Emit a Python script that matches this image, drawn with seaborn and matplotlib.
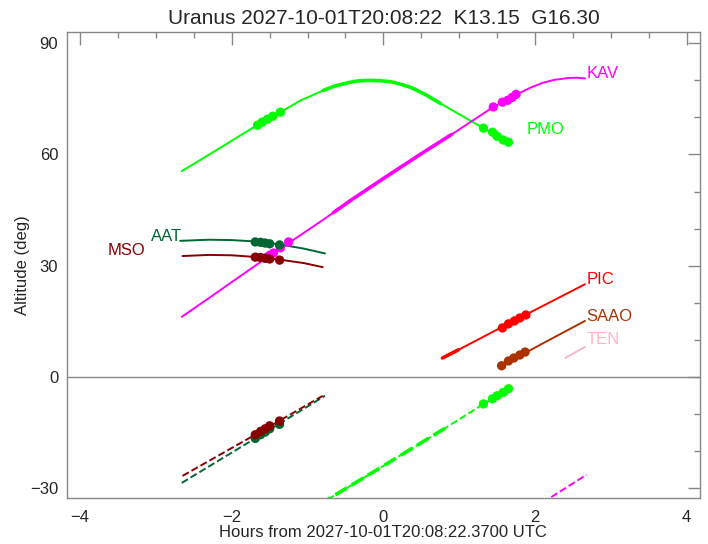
import numpy as np
import pandas as pd
import matplotlib
matplotlib.use("Agg")
import matplotlib.pyplot as plt
import seaborn as sns
from matplotlib.ticker import MultipleLocator

# Altitude curves (hours from reference time, altitude in deg)
pmo_x = [-2.66, -2.2, -1.69, -1.36, -1.09, -0.79, -0.65, -0.5, -0.35, -0.21, -0.05,
         0.1, 0.2, 0.36, 0.55, 0.75, 1.02, 1.32, 1.65]
pmo_y = [55.5, 61.2, 67.6, 71.4, 74.6, 77.3, 78.4, 79.2, 79.8, 80.0, 79.9,
         79.6, 79.1, 78.1, 76.2, 73.8, 70.6, 67.1, 63.3]
kav_x = [-2.66, -2.32, -1.69, -1.25, -0.80, -0.66, -0.44, 0.0, 0.5, 0.9, 1.02, 1.45,
         1.77, 1.95, 2.1, 2.25, 2.43, 2.55, 2.66]
kav_y = [16.2, 21.0, 30.0, 36.1, 42.3, 44.3, 47.5, 53.5, 60.2, 65.4, 67.0, 72.8,
         76.3, 78.1, 79.3, 80.1, 80.6, 80.7, 80.5]
aat_x = [-2.68, -2.3, -2.0, -1.66, -1.36, -1.05, -0.77]
aat_y = [36.7, 37.0, 36.9, 36.5, 35.7, 34.6, 33.3]
mso_x = [-2.65, -2.3, -2.0, -1.66, -1.36, -1.05, -0.80]
mso_y = [32.6, 32.9, 32.8, 32.3, 31.6, 30.7, 29.6]
pic_x = [0.78, 0.99, 1.7, 2.66]
pic_y = [5.1, 7.3, 14.9, 25.0]
saao_x = [1.56, 2.1, 2.66]
saao_y = [3.0, 9.0, 15.1]
ten_x = [2.40, 2.66]
ten_y = [5.1, 8.1]

# thick windows on the curves
pmo_thick = (-0.79, 0.75)
kav_thick = (-0.66, 0.9)
pic_thick = (0.78, 0.99)

# dashed curves (below horizon)
aat_dx = [-2.66, -1.7, -0.77]
aat_dy = [-28.6, -16.7, -5.1]
mso_dx = [-2.65, -1.7, -0.80]
mso_dy = [-26.7, -15.7, -5.1]
pmo_dx = [-0.85, 0.0, 0.84, 1.64]
pmo_dy = [-34.5, -24.0, -13.5, -3.2]
pmo_dthick = (-0.85, 0.84)
kav_dx = [2.10, 2.68]
kav_dy = [-33.9, -26.4]

# observation points
pmo_p1x = [-1.66, -1.60, -1.53, -1.46, -1.36]
pmo_p1y = [67.9, 68.7, 69.5, 70.3, 71.4]
pmo_p2x = [1.32, 1.44, 1.50, 1.58, 1.65]
pmo_p2y = [67.1, 66.0, 64.9, 63.9, 63.3]
pmo_p3y = [-7.3, -5.9, -5.1, -4.2, -3.2]
kav_p1x = [-1.56, -1.50, -1.45, -1.36, -1.25]
kav_p1y = [32.0, 32.8, 33.4, 34.8, 36.4]
kav_p2x = [1.45, 1.57, 1.64, 1.70, 1.75]
kav_p2y = [72.8, 74.1, 74.6, 75.4, 76.2]
south_px = [-1.69, -1.62, -1.56, -1.50, -1.37]
aat_py = [36.4, 36.3, 36.1, 35.9, 35.6]
aat_pdy = [-16.6, -15.6, -14.9, -14.0, -12.8]
mso_py = [32.3, 32.2, 32.0, 31.8, 31.5]
mso_pdy = [-15.6, -14.7, -14.0, -13.2, -11.9]
pic_px = [1.57, 1.65, 1.73, 1.80, 1.88]
pic_py = [13.2, 14.3, 15.1, 15.9, 16.7]
saao_px = [1.56, 1.65, 1.72, 1.80, 1.87]
saao_py = [3.0, 4.3, 5.1, 5.9, 6.7]

# label positions
labels = ["KAV", "PMO", "AAT", "MSO", "PIC", "SAAO", "TEN"]
label_x = [2.68, 1.89, -2.66, -3.14, 2.68, 2.68, 2.68]
label_y = [81.9, 66.6, 38.0, 34.2, 26.4, 16.4, 10.0]
label_ha = ["left", "left", "right", "right", "left", "left", "left"]

colors = {"PMO": "#00ff00", "KAV": "#ff00ff", "AAT": "#006633", "MSO": "#880000",
          "PIC": "#ff0000", "SAAO": "#aa3300", "TEN": "#ffb6c1"}

sns.set_style("white")
plt.rcParams["font.family"] = ["Liberation Sans", "DejaVu Sans"]

fig = plt.figure(figsize=(7.08, 5.44), dpi=100)
ax = fig.add_axes([0.094, 0.085, 0.895, 0.856])

gray = "#888888"
ax.axhline(0, color=gray, lw=1, zorder=1)


def curve(x, y, name, lw=1.4, ls="-", thick=None):
    sns.lineplot(x=x, y=y, color=colors[name], lw=lw, linestyle=ls,
                 estimator=None, sort=False, ax=ax)
    if thick is not None:
        xa = np.array(x)
        ya = np.array(y)
        m = (xa >= thick[0] - 1e-9) & (xa <= thick[1] + 1e-9)
        sns.lineplot(x=xa[m], y=ya[m], color=colors[name], lw=2.6, linestyle=ls,
                     estimator=None, sort=False, ax=ax)


def dots(x, y, name):
    sns.scatterplot(x=x, y=y, color=colors[name], s=45, edgecolor="none",
                    ax=ax, zorder=5)


curve(pmo_x, pmo_y, "PMO", thick=pmo_thick)
curve(kav_x, kav_y, "KAV", thick=kav_thick)
curve(aat_x, aat_y, "AAT")
curve(mso_x, mso_y, "MSO")
curve(pic_x, pic_y, "PIC", thick=pic_thick)
curve(saao_x, saao_y, "SAAO")
curve(ten_x, ten_y, "TEN")

curve(aat_dx, aat_dy, "AAT", ls="--")
curve(mso_dx, mso_dy, "MSO", ls="--")
curve(pmo_dx, pmo_dy, "PMO", ls="--", thick=pmo_dthick)
curve(kav_dx, kav_dy, "KAV", ls="--")

dots(kav_p1x, kav_p1y, "KAV")
dots(kav_p2x, kav_p2y, "KAV")
dots(pmo_p1x, pmo_p1y, "PMO")
dots(pmo_p2x, pmo_p2y, "PMO")
dots(pmo_p2x, pmo_p3y, "PMO")
dots(south_px, aat_py, "AAT")
dots(south_px, aat_pdy, "AAT")
dots(south_px, mso_py, "MSO")
dots(south_px, mso_pdy, "MSO")
dots(pic_px, pic_py, "PIC")
dots(saao_px, saao_py, "SAAO")

for lab, lx, ly, ha in zip(labels, label_x, label_y, label_ha):
    ax.text(lx, ly, lab, color=colors[lab], fontsize=12, ha=ha, va="center")

ax.set_xlim(-4.18, 4.18)
ax.set_ylim(-32.6, 93)
ax.xaxis.set_major_locator(MultipleLocator(2))
ax.xaxis.set_minor_locator(MultipleLocator(0.5))
ax.yaxis.set_major_locator(MultipleLocator(30))
ax.yaxis.set_minor_locator(MultipleLocator(10))
ax.tick_params(which="both", direction="in", top=True, right=True, color=gray,
               labelsize=12, pad=6)
ax.tick_params(axis="x", which="major", pad=9)
ax.tick_params(which="major", length=9, width=1)
ax.tick_params(which="minor", length=4.5, width=1)
for sp in ax.spines.values():
    sp.set_color(gray)
    sp.set_linewidth(1)

ax.set_xlabel("Hours from 2027-10-01T20:08:22.3700 UTC", fontsize=12, labelpad=0)
ax.set_ylabel("Altitude (deg)", fontsize=12, labelpad=0)
ax.set_title("Uranus 2027-10-01T20:08:22  K13.15  G16.30", fontsize=15, pad=6)

fig.savefig("out.png", dpi=100)
